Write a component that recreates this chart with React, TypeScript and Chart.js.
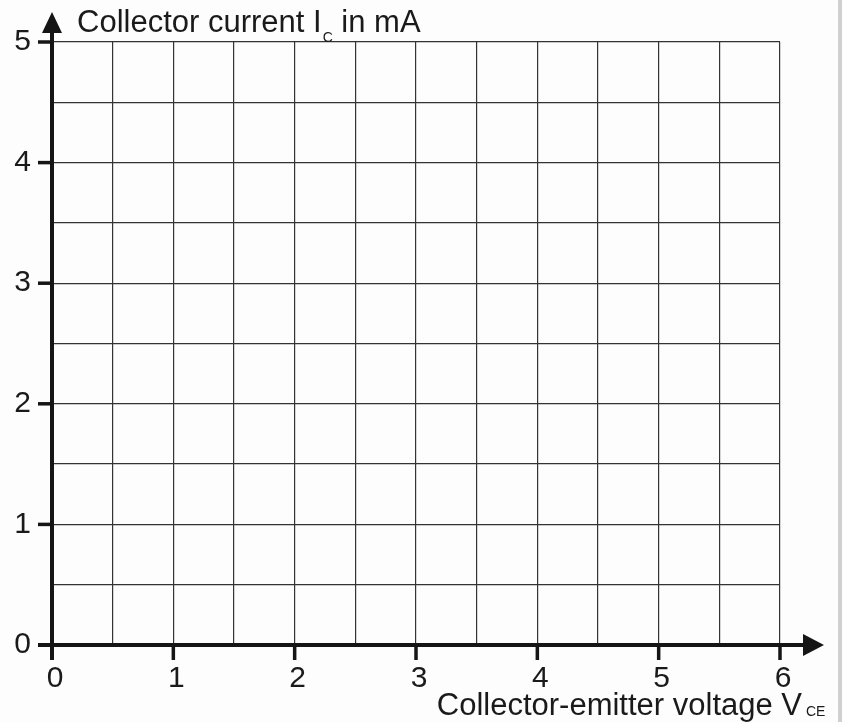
import React, { useEffect, useRef } from "react";
import { Chart, registerables } from "chart.js";

Chart.register(...registerables);

const xRange = [0, 6];
const yRange = [0, 5];
const gridStep = 0.5;
const xTickLabels = ["0", "1", "2", "3", "4", "5", "6"];
const yTickLabels = ["0", "1", "2", "3", "4", "5"];
const yTitle = ["Collector current I", "C", " in mA"];
const xTitle = ["Collector-emitter voltage V", "CE"];

const FONT = "'Liberation Sans', Arial, sans-serif";

const axesPlugin = {
  id: "axesPlugin",
  beforeDraw(chart: any) {
    const { ctx, width, height } = chart;
    ctx.save();
    ctx.fillStyle = "#fdfdfd";
    ctx.fillRect(0, 0, width, height);
    ctx.fillStyle = "#d0d0d0";
    ctx.fillRect(838, 0, width - 838, height);
    ctx.restore();
  },
  afterDraw(chart: any) {
    const { ctx } = chart;
    const xs = chart.scales.x;
    const ys = chart.scales.y;
    const x0 = xs.getPixelForValue(0);
    const y0 = ys.getPixelForValue(0);
    const xEnd = xs.getPixelForValue(6);
    const yEnd = ys.getPixelForValue(5);
    ctx.save();
    ctx.strokeStyle = "#151515";
    ctx.fillStyle = "#151515";
    ctx.lineWidth = 4;
    ctx.lineCap = "butt";
    // x axis
    ctx.beginPath();
    ctx.moveTo(x0 - 14, y0);
    ctx.lineTo(xEnd + 26, y0);
    ctx.stroke();
    // y axis
    ctx.beginPath();
    ctx.moveTo(x0, y0 + 15);
    ctx.lineTo(x0, yEnd - 12);
    ctx.stroke();
    // ticks
    ctx.lineWidth = 3.5;
    for (let v = 1; v <= 6; v++) {
      const px = xs.getPixelForValue(v);
      ctx.beginPath();
      ctx.moveTo(px, y0);
      ctx.lineTo(px, y0 + 15);
      ctx.stroke();
    }
    for (let v = 1; v <= 5; v++) {
      const py = ys.getPixelForValue(v);
      ctx.beginPath();
      ctx.moveTo(x0 - 14, py);
      ctx.lineTo(x0, py);
      ctx.stroke();
    }
    // arrowheads
    const tipX = xEnd + 44;
    ctx.beginPath();
    ctx.moveTo(tipX, y0);
    ctx.lineTo(tipX - 21, y0 - 11);
    ctx.lineTo(tipX - 21, y0 + 11);
    ctx.closePath();
    ctx.fill();
    const tipY = yEnd - 30;
    ctx.beginPath();
    ctx.moveTo(x0, tipY);
    ctx.lineTo(x0 - 10, tipY + 21);
    ctx.lineTo(x0 + 10, tipY + 21);
    ctx.closePath();
    ctx.fill();

    // titles
    ctx.fillStyle = "#1a1a1a";
    ctx.textBaseline = "alphabetic";
    ctx.textAlign = "left";
    ctx.font = `31px ${FONT}`;
    let tx = 77;
    const ty = 32;
    ctx.fillText(yTitle[0], tx, ty);
    tx += ctx.measureText(yTitle[0]).width + 1;
    ctx.font = `14px ${FONT}`;
    ctx.fillText(yTitle[1], tx, ty + 10);
    tx += ctx.measureText(yTitle[1]).width;
    ctx.font = `31px ${FONT}`;
    ctx.fillText(yTitle[2], tx, ty);

    ctx.font = `31px ${FONT}`;
    const by = 715;
    const w = ctx.measureText(xTitle[0]).width;
    let bx = 802 - w;
    ctx.fillText(xTitle[0], bx, by);
    bx += w + 4;
    ctx.font = `14px ${FONT}`;
    ctx.fillText(xTitle[1], bx, by + 1);
    ctx.restore();
  },
};

export default function App() {
  const ref = useRef<HTMLCanvasElement | null>(null);
  useEffect(() => {
    document.body.style.margin = "0";
    const canvas = ref.current!;
    const chart = new Chart(canvas, {
      type: "scatter",
      data: { datasets: [{ data: [] }] },
      options: {
        animation: false,
        responsive: false,
        devicePixelRatio: 1,
        layout: { padding: { top: 42, right: 62, left: 0, bottom: 0 } },
        plugins: { legend: { display: false }, tooltip: { enabled: false } },
        scales: {
          x: {
            type: "linear",
            min: xRange[0],
            max: xRange[1],
            afterFit: (s: any) => {
              s.height = 77;
            },
            ticks: {
              stepSize: gridStep,
              autoSkip: false,
              maxRotation: 0,
              padding: 16,
              labelOffset: 3,
              color: "#1a1a1a",
              font: { size: 30, family: FONT },
              callback: (v: any) => {
                const n = Number(v);
                return Number.isInteger(n) ? xTickLabels[n] : "";
              },
            },
            grid: { color: "#333333", lineWidth: 1.2, drawTicks: false },
            border: { display: false },
          },
          y: {
            type: "linear",
            min: yRange[0],
            max: yRange[1],
            afterFit: (s: any) => {
              s.width = 52;
            },
            ticks: {
              stepSize: gridStep,
              autoSkip: false,
              padding: 21,
              color: "#1a1a1a",
              font: { size: 30, family: FONT },
              callback: (v: any) => {
                const n = Number(v);
                return Number.isInteger(n) ? yTickLabels[n] : "";
              },
            },
            grid: { color: "#333333", lineWidth: 1.2, drawTicks: false },
            border: { display: false },
          },
        },
      },
      plugins: [axesPlugin],
    });
    return () => chart.destroy();
  }, []);
  return <canvas ref={ref} width={842} height={722} style={{ display: "block" }} />;
}
